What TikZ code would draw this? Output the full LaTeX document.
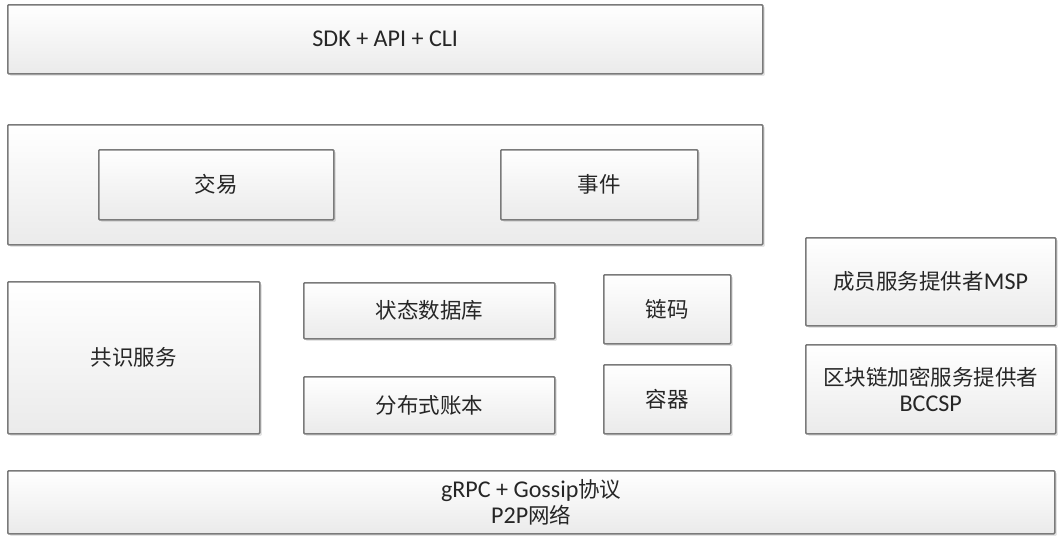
\documentclass[tikz,border=0pt]{standalone}
\usepackage{fontspec}
\setmainfont[Scale=1.12]{Carlito}
\newfontfamily\cjk{Noto Sans CJK SC}
\usetikzlibrary{shadows}
\begin{document}
\begin{tikzpicture}[x=1pt,y=-1pt,
  box/.style={draw=black!52, line width=1.5pt, rounded corners=1pt,
    top color=white, bottom color=black!8,
    drop shadow={shadow xshift=2pt, shadow yshift=-2pt, opacity=0.3, fill=black!35},
    anchor=north west, inner sep=0pt, align=center,
    font=\fontsize{21.5}{26}\selectfont, text=black!85}]
\useasboundingbox (0,0) rectangle (1061,538);
\node[box, minimum width=755pt, minimum height=69pt] (sdk) at (7,4) {SDK + API + CLI};
\node[box, minimum width=755pt, minimum height=120pt] (mid) at (7,124) {};
\node[box, minimum width=235pt, minimum height=70pt] (tx) at (98,149) {\cjk 交易};
\node[box, minimum width=197pt, minimum height=70pt] (ev) at (500,149) {\cjk 事件};
\node[box, minimum width=252pt, minimum height=152pt] (cons) at (7,281) {\cjk 共识服务};
\node[box, minimum width=251pt, minimum height=56pt] (state) at (303,282) {\cjk 状态数据库};
\node[box, minimum width=251pt, minimum height=57pt] (ledger) at (303,376) {\cjk 分布式账本};
\node[box, minimum width=127pt, minimum height=69pt] (cc) at (603,274) {\cjk 链码};
\node[box, minimum width=127pt, minimum height=69pt] (ctr) at (603,364) {\cjk 容器};
\node[box, minimum width=250pt, minimum height=88pt] (msp) at (805,237) {{\cjk 成员服务提供者}MSP};
\node[box, minimum width=250pt, minimum height=89pt] (bccsp) at (805,344) {{\cjk 区块链加密服务提供者}\\BCCSP};
\node[box, minimum width=1047pt, minimum height=63pt] (net) at (7,470) {gRPC + Gossip{\cjk 协议}\\P2P{\cjk 网络}};
\end{tikzpicture}
\end{document}
